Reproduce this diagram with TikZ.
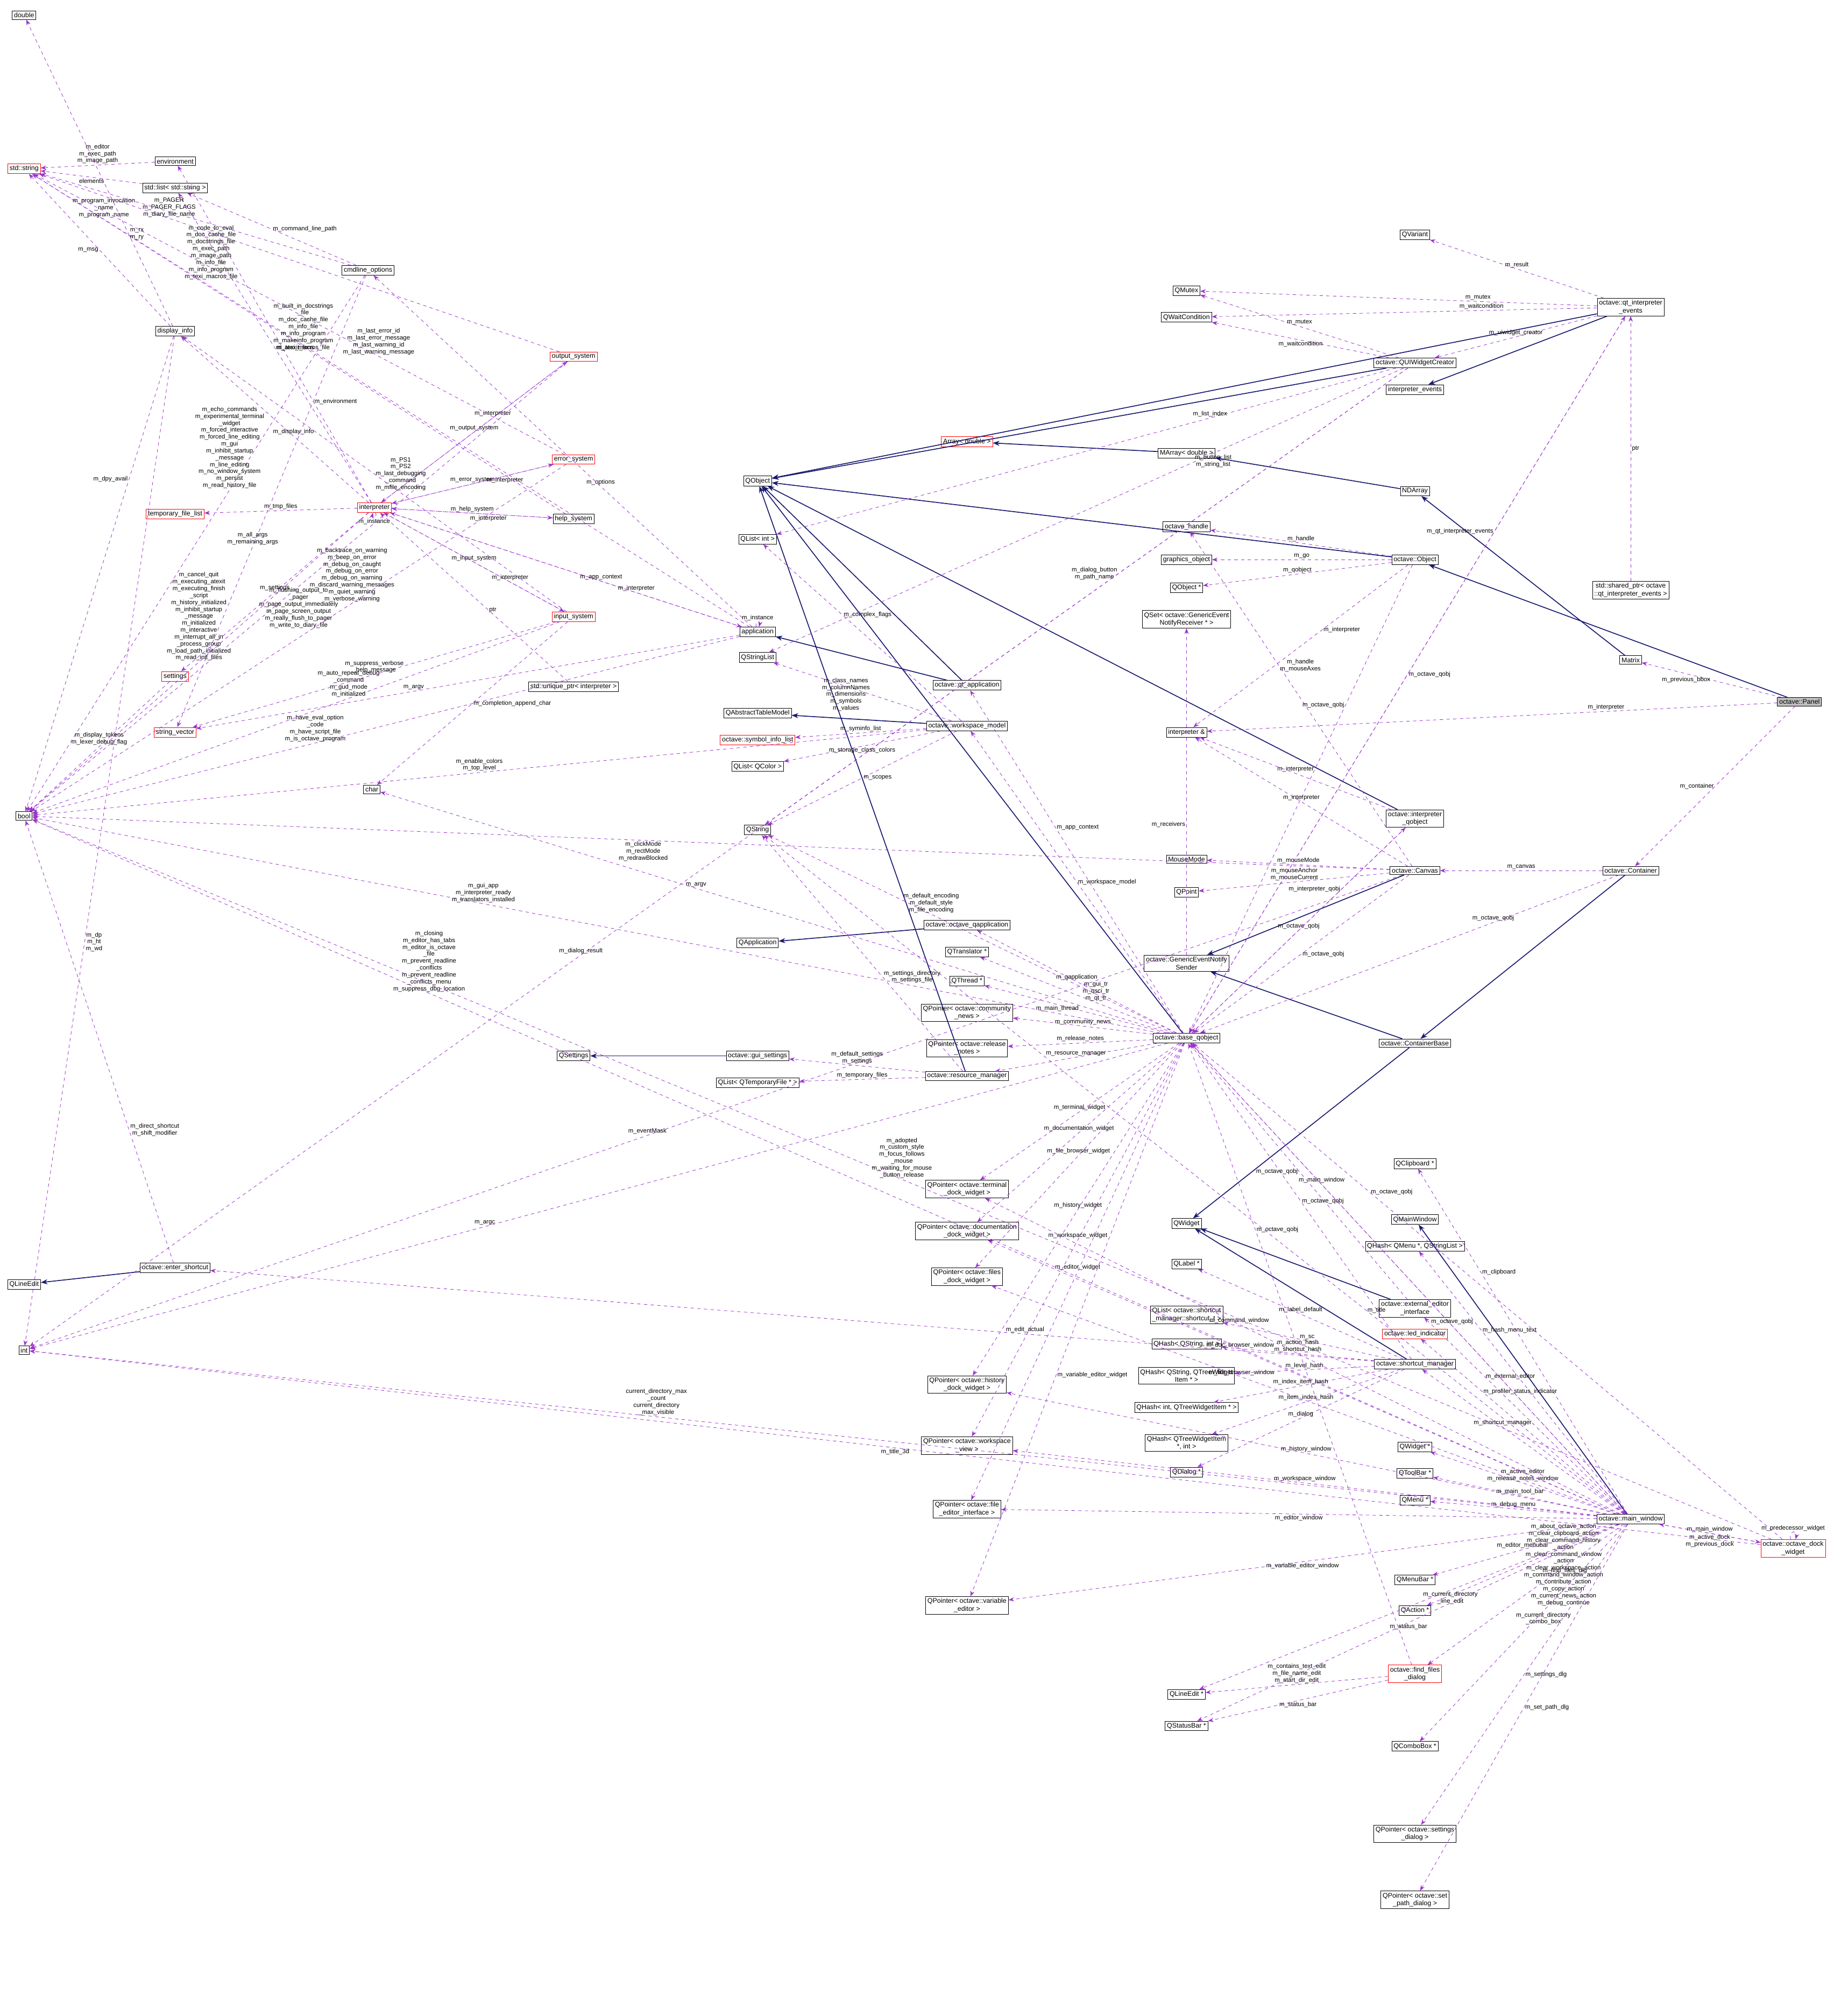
\documentclass[tikz,border=0pt]{standalone}
\usepackage{fontspec}
\setmainfont{Liberation Sans}
\usetikzlibrary{arrows.meta}
\definecolor{usecol}{RGB}{154,50,205}
\definecolor{inhcol}{RGB}{25,25,112}
\tikzset{
  cls/.style={draw,rectangle,fill=white,inner sep=1.6pt,font=\fontsize{6}{7}\selectfont,align=center},
  redcls/.style={cls,draw=red},
  use/.style={dashed,usecol,-{Stealth[length=5pt]},thin},
  inh/.style={inhcol,-{Stealth[length=6pt]},thick},
  lbl/.style={font=\fontsize{5.5}{6.2}\selectfont,align=center,text=black,inner sep=1pt}
}
\begin{document}
\begin{tikzpicture}[x=0.04cm,y=-0.04cm]
    \useasboundingbox (0,0) rectangle (1456,1572);
    % Left column
    \node[cls] (double) at (19,12) {double};
    \node[redcls] (string) at (19,133) {std::string};
    \node[cls] (env) at (138,127) {environment};
    \node[cls] (strlist) at (138,148) {std::list< std::string >};
    \node[cls] (cmdopt) at (290,213) {cmdline\_options};
    \node[cls] (dispinfo) at (138,261) {display\_info};
    \node[redcls] (outsys) at (452,281) {output\_system};
    \node[redcls] (errsys) at (452,362) {error\_system};
    \node[redcls] (interp) at (295,400) {interpreter};
    \node[redcls] (tmpfiles) at (138,405) {temporary\_file\_list};
    \node[cls] (helpsys) at (452,409) {help\_system};
    \node[redcls] (inpsys) at (452,486) {input\_system};
    \node[cls] (app) at (597,498) {application};
    \node[redcls] (settings) at (138,533) {settings};
    \node[cls] (uptr) at (452,541) {std::unique\_ptr< interpreter >};
    \node[redcls] (strvec) at (138,577) {string\_vector};
    \node[cls] (char) at (293,622) {char};
    \node[cls] (bool) at (19,643) {bool};
    \node[cls] (qlineedit) at (19,1012) {QLineEdit};
    \node[cls] (entershort) at (138,999) {octave::enter\_shortcut};
    \node[cls] (int) at (19,1064) {int};
    % Middle columns
    \node[cls] (qobject) at (597,379) {QObject};
    \node[redcls] (arrd) at (762,348) {Array< double >};
    \node[cls] (qlistint) at (597,425) {QList< int >};
    \node[cls] (qstrlist) at (597,518) {QStringList};
    \node[cls] (qatm) at (597,562) {QAbstractTableModel};
    \node[redcls] (syminfo) at (597,583) {octave::symbol\_info\_list};
    \node[cls] (qlistcol) at (597,604) {QList< QColor >};
    \node[cls] (qstring) at (597,654) {QString};
    \node[cls] (qapp) at (597,743) {QApplication};
    \node[cls] (qsettings) at (452,832) {QSettings};
    \node[cls] (qtapp) at (762,540) {octave::qt\_application};
    \node[cls] (wsmodel) at (762,572) {octave::workspace\_model};
    \node[cls] (octqapp) at (762,729) {octave::octave\_qapplication};
    \node[cls] (guiset) at (597,832) {octave::gui\_settings};
    \node[cls] (qlisttmp) at (597,853) {QList< QTemporaryFile * >};
    \node[cls] (resmgr) at (762,848) {octave::resource\_manager};
    \node[cls] (qtrans) at (762,750) {QTranslator *};
    \node[cls] (qthread) at (762,773) {QThread *};
    \node[cls] (pcomm) at (762,798) {QPointer< octave::community\\\_news >};
    \node[cls] (prel) at (762,826) {QPointer< octave::release\\\_notes >};
    \node[cls] (pterm) at (762,937) {QPointer< octave::terminal\\\_dock\_widget >};
    \node[cls] (pdoc) at (762,970) {QPointer< octave::documentation\\\_dock\_widget >};
    \node[cls] (pfiles) at (762,1006) {QPointer< octave::files\\\_dock\_widget >};
    \node[cls] (phist) at (762,1091) {QPointer< octave::history\\\_dock\_widget >};
    \node[cls] (pws) at (762,1139) {QPointer< octave::workspace\\\_view >};
    \node[cls] (pedit) at (762,1189) {QPointer< octave::file\\\_editor\_interface >};
    \node[cls] (pvar) at (762,1265) {QPointer< octave::variable\\\_editor >};
    \node[cls] (baseq) at (935,818) {octave::base\_qobject};
    \node[cls] (marr) at (935,357) {MArray< double >};
    \node[cls] (ohandle) at (935,415) {octave\_handle};
    \node[cls] (gobj) at (935,441) {graphics\_object};
    \node[cls] (qobjptr) at (935,463) {QObject *};
    \node[cls] (qset) at (935,488) {QSet< octave::GenericEvent\\NotifyReceiver * >};
    \node[cls] (interpref) at (935,577) {interpreter \&};
    \node[cls] (mousemode) at (935,677) {MouseMode};
    \node[cls] (qpoint) at (935,703) {QPoint};
    \node[cls] (sender) at (935,759) {octave::GenericEventNotify\\Sender};
    \node[cls] (qwidget) at (935,964) {QWidget};
    \node[cls] (qlabel) at (935,996) {QLabel *};
    \node[cls] (qlistsc) at (935,1036) {QList< octave::shortcut\\\_manager::shortcut\_t >};
    \node[cls] (qhsi) at (935,1059) {QHash< QString, int >};
    \node[cls] (qhst) at (935,1084) {QHash< QString, QTreeWidget\\Item * >};
    \node[cls] (qhit) at (935,1109) {QHash< int, QTreeWidgetItem * >};
    \node[cls] (qhti) at (935,1137) {QHash< QTreeWidgetItem\\ *, int >};
    \node[cls] (qdialog) at (935,1160) {QDialog *};
    \node[cls] (qlineptr) at (935,1335) {QLineEdit *};
    \node[cls] (qstatus) at (935,1360) {QStatusBar *};
    % Right columns
    \node[cls] (qvariant) at (1115,185) {QVariant};
    \node[cls] (qmutex) at (935,229) {QMutex};
    \node[cls] (qwait) at (935,250) {QWaitCondition};
    \node[cls] (qtevents) at (1285,242) {octave::qt\_interpreter\\\_events};
    \node[cls] (uicreator) at (1115,286) {octave::QUIWidgetCreator};
    \node[cls] (ievents) at (1115,307) {interpreter\_events};
    \node[cls] (ndarr) at (1115,387) {NDArray};
    \node[cls] (object) at (1115,441) {octave::Object};
    \node[cls] (shptr) at (1285,465) {std::shared\_ptr< octave\\::qt\_interpreter\_events >};
    \node[cls] (matrix) at (1285,520) {Matrix};
    \node[cls,fill={rgb,255:red,191;green,191;blue,191}] (panel) at (1418,553) {octave::Panel};
    \node[cls] (iqobj) at (1115,645) {octave::interpreter\\\_qobject};
    \node[cls] (canvas) at (1115,686) {octave::Canvas};
    \node[cls] (container) at (1285,686) {octave::Container};
    \node[cls] (contbase) at (1115,822) {octave::ContainerBase};
    \node[cls] (qclip) at (1115,917) {QClipboard *};
    \node[cls] (qmainwin) at (1115,961) {QMainWindow};
    \node[cls] (qhmenu) at (1115,982) {QHash< QMenu *, QStringList >};
    \node[cls] (exted) at (1115,1031) {octave::external\_editor\\\_interface};
    \node[redcls] (led) at (1115,1051) {octave::led\_indicator};
    \node[cls] (scmgr) at (1115,1075) {octave::shortcut\_manager};
    \node[cls] (qwidptr) at (1115,1140) {QWidget *};
    \node[cls] (qtoolbar) at (1115,1161) {QToolBar *};
    \node[cls] (qmenu) at (1115,1182) {QMenu *};
    \node[cls] (mainwin) at (1285,1197) {octave::main\_window};
    \node[redcls] (dock) at (1413,1220) {octave::octave\_dock\\\_widget};
    \node[cls] (qmenubar) at (1115,1245) {QMenuBar *};
    \node[cls] (qaction) at (1115,1269) {QAction *};
    \node[redcls] (findfiles) at (1115,1319) {octave::find\_files\\\_dialog};
    \node[cls] (qcombo) at (1115,1376) {QComboBox *};
    \node[cls] (psetdlg) at (1115,1445) {QPointer< octave::settings\\\_dialog >};
    \node[cls] (ppathdlg) at (1115,1497) {QPointer< octave::set\\\_path\_dialog >};

    % Inheritance
    \draw[inh] (panel) -- (object);
    \draw[inh] (object) -- (qobject);
    \draw[inh] (matrix) -- (ndarr);
    \draw[inh] (ndarr) -- (marr);
    \draw[inh] (marr) -- (arrd);
    \draw[inh] (container) -- (contbase);
    \draw[inh] (contbase) -- (qwidget);
    \draw[inh] (canvas) -- (sender);
    \draw[inh] (contbase) -- (sender);
    \draw[inh] (iqobj) -- (qobject);
    \draw[inh] (qtevents) -- (qobject);
    \draw[inh] (qtevents) -- (ievents);
    \draw[inh] (uicreator) -- (qobject);
    \draw[inh] (baseq) -- (qobject);
    \draw[inh] (octqapp) -- (qapp);
    \draw[inh] (qtapp) -- (app);
    \draw[inh] (qtapp) -- (qobject);
    \draw[inh] (wsmodel) -- (qatm);
    \draw[inh] (resmgr) -- (qobject);
    \draw[inh] (guiset) -- (qsettings);
    \draw[inh] (entershort) -- (qlineedit);
    \draw[inh] (mainwin) -- (qmainwin);
    \draw[inh] (scmgr) -- (qwidget);
    \draw[inh] (exted) -- (qwidget);

    % Panel and graphics objects
    \draw[use] (panel) -- (container) node[midway,lbl,left] {m\_container};
    \draw[use] (panel) -- (matrix) node[midway,lbl,left] {m\_previous\_bbox};
    \draw[use] (panel) -- (interpref) node[pos=0.3,lbl,above] {m\_interpreter};
    \draw[use] (container) -- (canvas) node[midway,lbl,above] {m\_canvas};
    \draw[use] (container) -- (baseq) node[pos=0.3,lbl,above] {m\_octave\_qobj};
    \draw[use] (object) -- (ohandle) node[midway,lbl,above] {m\_handle};
    \draw[use] (object) -- (gobj) node[midway,lbl,above] {m\_go};
    \draw[use] (object) -- (qobjptr) node[midway,lbl,above] {m\_qobject};
    \draw[use] (object) -- (interpref) node[pos=0.4,lbl,right] {m\_interpreter};
    \draw[use] (object) -- (baseq) node[pos=0.3,lbl,left] {m\_octave\_qobj};
    \draw[use] (canvas) -- (mousemode) node[midway,lbl,above] {m\_mouseMode};
    \draw[use] (canvas) -- (qpoint) node[midway,lbl,above] {m\_mouseAnchor\\m\_mouseCurrent};
    \draw[use] (canvas) -- (ohandle) node[pos=0.6,lbl,right] {m\_handle\\m\_mouseAxes};
    \draw[use] (canvas) -- (interpref) node[midway,lbl,above] {m\_interpreter};
    \draw[use] (canvas) -- (baseq) node[midway,lbl,right] {m\_octave\_qobj};
    \draw[use] (canvas) -- (bool) node[pos=0.55,lbl,below] {m\_clickMode\\m\_rectMode\\m\_redrawBlocked};
    \draw[use] (canvas) -- (int) node[pos=0.55,lbl,above] {m\_eventMask};
    \draw[use] (iqobj) -- (interpref) node[midway,lbl,above] {m\_interpreter};
    \draw[use] (iqobj) -- (baseq) node[midway,lbl,above] {m\_octave\_qobj};
    \draw[use] (sender) -- (qset) node[pos=0.4,lbl,left] {m\_receivers};
    \draw[use] (shptr) -- (qtevents) node[midway,lbl,right] {ptr};

    % Interpreter events
    \draw[use] (qtevents) -- (qvariant) node[midway,lbl,above] {m\_result};
    \draw[use] (qtevents) -- (qmutex) node[pos=0.3,lbl,above] {m\_mutex};
    \draw[use] (qtevents) -- (qwait) node[pos=0.3,lbl,above] {m\_waitcondition};
    \draw[use] (qtevents) -- (uicreator) node[midway,lbl,above] {m\_uiwidget\_creator};
    \draw[use] (qtevents) -- (baseq) node[pos=0.5,lbl,right] {m\_octave\_qobj};
    \draw[use] (uicreator) -- (qmutex) node[midway,lbl,above] {m\_mutex};
    \draw[use] (uicreator) -- (qwait) node[midway,lbl,below] {m\_waitcondition};
    \draw[use] (uicreator) -- (qlistint) node[pos=0.3,lbl,above] {m\_list\_index};
    \draw[use] (uicreator) -- (qstrlist) node[pos=0.3,lbl,below] {m\_button\_list\\m\_string\_list};
    \draw[use] (uicreator) -- (qstring) node[pos=0.45,lbl,left] {m\_dialog\_button\\m\_path\_name};
    \draw[use] (uicreator) -- (int) node[pos=0.6,lbl,above] {m\_dialog\_result};

    % base_qobject
    \draw[use] (baseq) -- (octqapp) node[midway,lbl,above] {m\_qapplication};
    \draw[use] (baseq) -- (qtrans) node[pos=0.4,lbl,above] {m\_gui\_tr\\m\_qsci\_tr\\m\_qt\_tr};
    \draw[use] (baseq) -- (qthread) node[pos=0.6,lbl,below] {m\_main\_thread};
    \draw[use] (baseq) -- (pcomm) node[midway,lbl,above] {m\_community\_news};
    \draw[use] (baseq) -- (prel) node[midway,lbl,above] {m\_release\_notes};
    \draw[use] (baseq) -- (resmgr) node[midway,lbl,above] {m\_resource\_manager};
    \draw[use] (baseq) -- (pterm) node[midway,lbl,above] {m\_terminal\_widget};
    \draw[use] (baseq) -- (pdoc) node[midway,lbl,above] {m\_documentation\_widget};
    \draw[use] (baseq) -- (pfiles) node[midway,lbl,above] {m\_file\_browser\_widget};
    \draw[use] (baseq) -- (phist) node[midway,lbl,above] {m\_history\_widget};
    \draw[use] (baseq) -- (pws) node[midway,lbl,above] {m\_workspace\_widget};
    \draw[use] (baseq) -- (pedit) node[midway,lbl,above] {m\_editor\_widget};
    \draw[use] (baseq) -- (pvar) node[pos=0.6,lbl,right] {m\_variable\_editor\_widget};
    \draw[use] (baseq) -- (wsmodel) node[midway,lbl,right] {m\_workspace\_model};
    \draw[use] (baseq) -- (iqobj) node[pos=0.7,lbl,left] {m\_interpreter\_qobj};
    \draw[use] (baseq) -- (qtevents) node[pos=0.7,lbl,left] {m\_qt\_interpreter\_events};
    \draw[use] (baseq) -- (mainwin) node[pos=0.3,lbl,above] {m\_main\_window};
    \draw[use] (baseq) -- (qstring) node[pos=0.6,lbl,above] {m\_default\_encoding\\m\_default\_style\\m\_file\_encoding};
    \draw[use] (baseq) -- (bool) node[pos=0.6,lbl,above] {m\_gui\_app\\m\_interpreter\_ready\\m\_translators\_installed};
    \draw[use] (baseq) -- (qtapp) node[pos=0.6,lbl,right] {m\_app\_context};
    \draw[use] (baseq) -- (int) node[pos=0.6,lbl,above] {m\_argc};
    \draw[use] (baseq) -- (char) node[pos=0.6,lbl,above] {m\_argv};

    % Workspace model and resources
    \draw[use] (wsmodel) -- (syminfo) node[midway,lbl,above] {m\_syminfo\_list};
    \draw[use] (wsmodel) -- (qlistcol) node[midway,lbl,below] {m\_storage\_class\_colors};
    \draw[use] (wsmodel) -- (qstrlist) node[pos=0.45,lbl,left] {m\_class\_names\\m\_columnNames\\m\_dimensions\\m\_symbols\\m\_values};
    \draw[use] (wsmodel) -- (qstring) node[midway,lbl,right] {m\_scopes};
    \draw[use] (wsmodel) -- (qlistint) node[pos=0.6,lbl,right] {m\_complex\_flags};
    \draw[use] (wsmodel) -- (bool) node[pos=0.5,lbl,above] {m\_enable\_colors\\m\_top\_level};
    \draw[use] (resmgr) -- (guiset) node[midway,lbl,above] {m\_default\_settings\\m\_settings};
    \draw[use] (resmgr) -- (qlisttmp) node[midway,lbl,above] {m\_temporary\_files};
    \draw[use] (resmgr) -- (qstring) node[pos=0.4,lbl,right] {m\_settings\_directory\\m\_settings\_file};

    % Application and interpreter
    \draw[use] (app) -- (interp) node[pos=0.3,lbl,above] {m\_interpreter};
    \draw[use] (app) to[loop above,looseness=6] node[lbl,above] {m\_instance} (app);
    \draw[use] (app) -- (cmdopt) node[pos=0.4,lbl,above] {m\_options};
    \draw[use] (app) -- (string) node[pos=0.9,lbl,above] {m\_program\_invocation\\\_name\\m\_program\_name};
    \draw[use] (app) -- (strvec) node[pos=0.6,lbl,above] {m\_argv};
    \draw[use] (app) -- (bool) node[pos=0.6,lbl,above] {m\_have\_eval\_option\\\_code\\m\_have\_script\_file\\m\_is\_octave\_program};
    \draw[use] (interp) -- (outsys) node[midway,lbl,above] {m\_output\_system};
    \draw[use] (interp) -- (errsys) node[midway,lbl,above] {m\_error\_system};
    \draw[use] (interp) -- (helpsys) node[midway,lbl,above] {m\_help\_system};
    \draw[use] (interp) -- (inpsys) node[midway,lbl,above] {m\_input\_system};
    \draw[use] (interp) -- (app) node[pos=0.6,lbl,above] {m\_app\_context};
    \draw[use] (interp) to[loop below,looseness=6] node[lbl,below] {m\_instance} (interp);
    \draw[use] (interp) -- (tmpfiles) node[midway,lbl,above] {m\_tmp\_files};
    \draw[use] (interp) -- (dispinfo) node[pos=0.4,lbl,above] {m\_display\_info};
    \draw[use] (interp) -- (settings) node[midway,lbl,above] {m\_settings};
    \draw[use] (interp) -- (env) node[pos=0.3,lbl,right] {m\_environment};
    \draw[use] (interp) -- (strlist) node[pos=0.5,lbl,right] {m\_atexit\_fcns};
    \draw[use] (interp) -- (bool) node[pos=0.5,lbl,above] {m\_cancel\_quit\\m\_executing\_atexit\\m\_executing\_finish\\\_script\\m\_history\_initialized\\m\_inhibit\_startup\\\_message\\m\_initialized\\m\_interactive\\m\_interrupt\_all\_in\\\_process\_group\\m\_load\_path\_initialized\\m\_read\_init\_files};
    \draw[use] (outsys) -- (interp) node[pos=0.4,lbl,above] {m\_interpreter};
    \draw[use] (outsys) -- (bool) node[pos=0.5,lbl,below] {m\_flushing\_output\_to\\\_pager\\m\_page\_output\_immediately\\m\_page\_screen\_output\\m\_really\_flush\_to\_pager\\m\_write\_to\_diary\_file};
    \draw[use] (outsys) -- (string) node[pos=0.75,lbl,above] {m\_PAGER\\m\_PAGER\_FLAGS\\m\_diary\_file\_name};
    \draw[use] (errsys) -- (interp) node[pos=0.3,lbl,below] {m\_interpreter};
    \draw[use] (errsys) -- (bool) node[pos=0.4,lbl,above] {m\_backtrace\_on\_warning\\m\_beep\_on\_error\\m\_debug\_on\_caught\\m\_debug\_on\_error\\m\_debug\_on\_warning\\m\_discard\_warning\_messages\\m\_quiet\_warning\\m\_verbose\_warning};
    \draw[use] (errsys) -- (string) node[pos=0.35,lbl,above] {m\_last\_error\_id\\m\_last\_error\_message\\m\_last\_warning\_id\\m\_last\_warning\_message};
    \draw[use] (helpsys) -- (interp) node[pos=0.4,lbl,below] {m\_interpreter};
    \draw[use] (helpsys) -- (string) node[pos=0.55,lbl,right] {m\_built\_in\_docstrings\\\_file\\m\_doc\_cache\_file\\m\_info\_file\\m\_info\_program\\m\_makeinfo\_program\\m\_texi\_macros\_file};
    \draw[use] (inpsys) -- (interp) node[pos=0.3,lbl,above] {m\_interpreter};
    \draw[use] (inpsys) -- (char) node[midway,lbl,right] {m\_completion\_append\_char};
    \draw[use] (inpsys) -- (bool) node[pos=0.4,lbl,above] {m\_auto\_repeat\_debug\\\_command\\m\_gud\_mode\\m\_initialized};
    \draw[use] (inpsys) -- (strvec) node[pos=0.5,lbl,above] {m\_suppress\_verbose\\\_help\_message};
    \draw[use] (inpsys) -- (dispinfo) node[pos=0.5,lbl,right] {m\_PS1\\m\_PS2\\m\_last\_debugging\\\_command\\m\_mfile\_encoding};
    \draw[use] (uptr) -- (interp) node[pos=0.4,lbl,above] {ptr};
    \draw[use] (cmdopt) -- (string) node[pos=0.45,lbl,below] {m\_code\_to\_eval\\m\_doc\_cache\_file\\m\_docstrings\_file\\m\_exec\_path\\m\_image\_path\\m\_info\_file\\m\_info\_program\\m\_texi\_macros\_file};
    \draw[use] (cmdopt) -- (bool) node[pos=0.4,lbl,above] {m\_echo\_commands\\m\_experimental\_terminal\\\_widget\\m\_forced\_interactive\\m\_forced\_line\_editing\\m\_gui\\m\_inhibit\_startup\\\_message\\m\_line\_editing\\m\_no\_window\_system\\m\_persist\\m\_read\_history\_file};
    \draw[use] (cmdopt) -- (strvec) node[pos=0.6,lbl,above] {m\_all\_args\\m\_remaining\_args};
    \draw[use] (cmdopt) -- (strlist) node[midway,lbl,right] {m\_command\_line\_path};
    \draw[use] (env) -- (string) node[midway,lbl,above] {m\_editor\\m\_exec\_path\\m\_image\_path};
    \draw[use] (strlist) -- (string) node[midway,lbl,below] {elements};
    \draw[use] (dispinfo) -- (double) node[pos=0.3,lbl,right] {m\_rx\\m\_ry};
    \draw[use] (dispinfo) -- (string) node[midway,lbl,left] {m\_msg};
    \draw[use] (dispinfo) -- (bool) node[pos=0.3,lbl,left] {m\_dpy\_avail};
    \draw[use] (dispinfo) -- (int) node[pos=0.6,lbl,right] {m\_dp\\m\_ht\\m\_wd};
    \draw[use] (settings) -- (bool) node[midway,lbl,above] {m\_display\_tokens\\m\_lexer\_debug\_flag};
    \draw[use] (entershort) -- (bool) node[pos=0.3,lbl,right] {m\_direct\_shortcut\\m\_shift\_modifier};

    % Main window
    \draw[use] (mainwin) -- (qclip) node[pos=0.7,lbl,right] {m\_clipboard};
    \draw[use] (mainwin) -- (qhmenu) node[pos=0.7,lbl,right] {m\_hash\_menu\_text};
    \draw[use] (mainwin) -- (exted) node[pos=0.7,lbl,right] {m\_external\_editor};
    \draw[use] (mainwin) -- (led) node[pos=0.7,lbl,right] {m\_profiler\_status\_indicator};
    \draw[use] (mainwin) -- (scmgr) node[pos=0.6,lbl,above] {m\_shortcut\_manager};
    \draw[use] (mainwin) -- (qwidptr) node[pos=0.5,lbl,above] {m\_active\_editor\\m\_release\_notes\_window};
    \draw[use] (mainwin) -- (qtoolbar) node[midway,lbl,above] {m\_main\_tool\_bar};
    \draw[use] (mainwin) -- (qmenu) node[midway,lbl,above] {m\_debug\_menu};
    \draw[use] (mainwin) -- (qmenubar) node[midway,lbl,above] {m\_editor\_menubar};
    \draw[use] (mainwin) -- (qaction) node[pos=0.5,lbl,right] {m\_about\_octave\_action\\m\_clear\_clipboard\_action\\m\_clear\_command\_history\\\_action\\m\_clear\_command\_window\\\_action\\m\_clear\_workspace\_action\\m\_command\_window\_action\\m\_contribute\_action\\m\_copy\_action\\m\_current\_news\_action\\m\_debug\_continue};
    \draw[use] (mainwin) -- (findfiles) node[pos=0.3,lbl,below] {m\_find\_files\_dlg};
    \draw[use] (mainwin) -- (qlineptr) node[pos=0.4,lbl,below] {m\_current\_directory\\\_line\_edit};
    \draw[use] (mainwin) -- (qcombo) node[pos=0.4,lbl,below] {m\_current\_directory\\\_combo\_box};
    \draw[use] (mainwin) -- (qstatus) node[pos=0.5,lbl,below] {m\_status\_bar};
    \draw[use] (mainwin) -- (psetdlg) node[pos=0.5,lbl,right] {m\_settings\_dlg};
    \draw[use] (mainwin) -- (ppathdlg) node[pos=0.5,lbl,right] {m\_set\_path\_dlg};
    \draw[use] (mainwin) -- (dock) node[midway,lbl,below] {m\_active\_dock\\m\_previous\_dock};
    \draw[use] (mainwin) -- (baseq) node[pos=0.4,lbl,above] {m\_octave\_qobj};
    \draw[use] (mainwin) -- (pterm) node[pos=0.6,lbl,above] {m\_command\_window};
    \draw[use] (mainwin) -- (pdoc) node[pos=0.6,lbl,above] {m\_doc\_browser\_window};
    \draw[use] (mainwin) -- (pfiles) node[pos=0.6,lbl,above] {m\_file\_browser\_window};
    \draw[use] (mainwin) -- (phist) node[pos=0.5,lbl,above] {m\_history\_window};
    \draw[use] (mainwin) -- (pws) node[pos=0.5,lbl,above] {m\_workspace\_window};
    \draw[use] (mainwin) -- (pedit) node[pos=0.5,lbl,below] {m\_editor\_window};
    \draw[use] (mainwin) -- (pvar) node[pos=0.5,lbl,below] {m\_variable\_editor\_window};
    \draw[use] (mainwin) -- (qstring) node[pos=0.3,lbl,right] {m\_title};
    \draw[use] (mainwin) -- (int) node[pos=0.6,lbl,above] {current\_directory\_max\\\_count\\current\_directory\\\_max\_visible};
    \draw[use] (mainwin) -- (bool) node[pos=0.75,lbl,above] {m\_closing\\m\_editor\_has\_tabs\\m\_editor\_is\_octave\\\_file\\m\_prevent\_readline\\\_conflicts\\m\_prevent\_readline\\\_conflicts\_menu\\m\_suppress\_dbg\_location};
    \draw[use] (dock) -- (mainwin) node[midway,lbl,above] {m\_main\_window};
    \draw[use] (dock) to[loop above,looseness=5] node[lbl,above] {m\_predecessor\_widget} (dock);
    \draw[use] (dock) -- (bool) node[pos=0.5,lbl,above] {m\_adopted\\m\_custom\_style\\m\_focus\_follows\\\_mouse\\m\_waiting\_for\_mouse\\\_button\_release};
    \draw[use] (dock) -- (int) node[pos=0.5,lbl,below] {m\_title\_3d};
    \draw[use] (dock) -- (baseq) node[pos=0.7,lbl,right] {m\_octave\_qobj};

    % Shortcut manager and dialogs
    \draw[use] (scmgr) -- (qlabel) node[midway,lbl,above] {m\_label\_default};
    \draw[use] (scmgr) -- (qlistsc) node[midway,lbl,above] {m\_sc};
    \draw[use] (scmgr) -- (qhsi) node[midway,lbl,above] {m\_action\_hash\\m\_shortcut\_hash};
    \draw[use] (scmgr) -- (qhst) node[midway,lbl,above] {m\_level\_hash};
    \draw[use] (scmgr) -- (qhit) node[midway,lbl,above] {m\_index\_item\_hash};
    \draw[use] (scmgr) -- (qhti) node[midway,lbl,above] {m\_item\_index\_hash};
    \draw[use] (scmgr) -- (qdialog) node[midway,lbl,above] {m\_dialog};
    \draw[use] (scmgr) -- (baseq) node[pos=0.5,lbl,right] {m\_octave\_qobj};
    \draw[use] (scmgr) -- (entershort) node[pos=0.3,lbl,above] {m\_edit\_actual};
    \draw[use] (exted) -- (baseq) node[pos=0.5,lbl,left] {m\_octave\_qobj};
    \draw[use] (findfiles) -- (qlineptr) node[midway,lbl,above] {m\_contains\_text\_edit\\m\_file\_name\_edit\\m\_start\_dir\_edit};
    \draw[use] (findfiles) -- (qstatus) node[midway,lbl,below] {m\_status\_bar};
    \draw[use] (findfiles) -- (baseq) node[pos=0.7,lbl,right] {m\_octave\_qobj};
\end{tikzpicture}
\end{document}
